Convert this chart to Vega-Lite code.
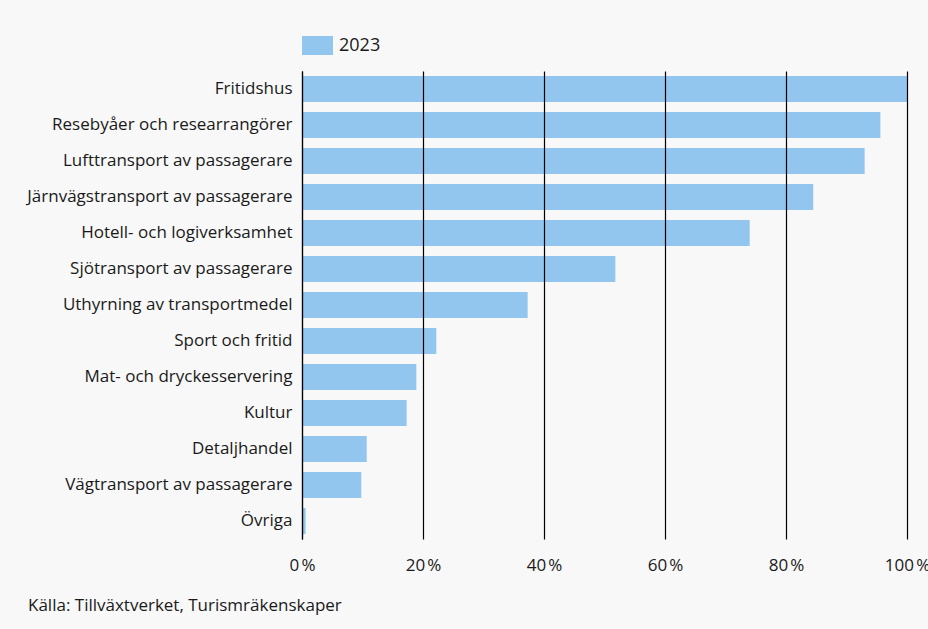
{
  "$schema": "https://vega.github.io/schema/vega-lite/v6.json",
  "width": 605,
  "height": 468,
  "autosize": {"type": "none"},
  "padding": {"left": 302, "top": 71, "right": 21, "bottom": 90},
  "background": "#f8f8f8",
  "config": {
    "font": "Open Sans",
    "view": {"stroke": null},
    "axis": {"labelFont": "Open Sans", "labelColor": "#1a1a1a"}
  },
  "title": {
    "text": "Källa: Tillväxtverket, Turismräkenskaper",
    "orient": "bottom",
    "anchor": "start",
    "frame": "group",
    "dx": -274,
    "offset": 25,
    "fontSize": 17,
    "fontWeight": "normal",
    "font": "Open Sans",
    "color": "#1a1a1a"
  },
  "data": {
    "values": [
      {"kategori": "Fritidshus", "andel": 100, "ar": "2023"},
      {"kategori": "Resebyåer och researrangörer", "andel": 95.6, "ar": "2023"},
      {"kategori": "Lufttransport av passagerare", "andel": 93.0, "ar": "2023"},
      {"kategori": "Järnvägstransport av passagerare", "andel": 84.5, "ar": "2023"},
      {"kategori": "Hotell- och logiverksamhet", "andel": 74.0, "ar": "2023"},
      {"kategori": "Sjötransport av passagerare", "andel": 51.8, "ar": "2023"},
      {"kategori": "Uthyrning av transportmedel", "andel": 37.3, "ar": "2023"},
      {"kategori": "Sport och fritid", "andel": 22.2, "ar": "2023"},
      {"kategori": "Mat- och dryckesservering", "andel": 18.9, "ar": "2023"},
      {"kategori": "Kultur", "andel": 17.3, "ar": "2023"},
      {"kategori": "Detaljhandel", "andel": 10.7, "ar": "2023"},
      {"kategori": "Vägtransport av passagerare", "andel": 9.8, "ar": "2023"},
      {"kategori": "Övriga", "andel": 0.6, "ar": "2023"}
    ]
  },
  "mark": {"type": "bar", "zindex": 0},
  "encoding": {
    "y": {
      "field": "kategori",
      "type": "nominal",
      "sort": null,
      "title": null,
      "scale": {"paddingInner": 0.28, "paddingOuter": 0.14},
      "axis": {
        "domain": true,
        "domainColor": "#000000",
        "domainWidth": 1.2,
        "ticks": false,
        "grid": false,
        "labelPadding": 10,
        "labelFontSize": 17,
        "labelLimit": 400,
        "zindex": 1
      }
    },
    "x": {
      "field": "andel",
      "type": "quantitative",
      "title": null,
      "scale": {"domain": [0, 100], "nice": false},
      "axis": {
        "values": [0, 20, 40, 60, 80, 100],
        "grid": true,
        "gridColor": "#000000",
        "gridOpacity": 1,
        "gridWidth": 1.2,
        "domain": false,
        "ticks": false,
        "labelFlush": false,
        "labelPadding": 18,
        "labelFontSize": 17,
        "labelExpr": "datum.value + '\u202f%'",
        "zindex": 1
      }
    },
    "color": {
      "field": "ar",
      "type": "nominal",
      "scale": {"range": ["#93c6ee"]},
      "legend": {
        "title": null,
        "orient": "none",
        "legendX": 0,
        "legendY": -41,
        "symbolType": "M-1,-0.613H1V0.613H-1Z",
        "symbolSize": 961,
        "symbolOpacity": 1,
        "symbolStrokeWidth": 0,
        "labelFontSize": 18,
        "labelFont": "Open Sans",
        "labelColor": "#1a1a1a",
        "labelOffset": 6
      }
    }
  }
}
